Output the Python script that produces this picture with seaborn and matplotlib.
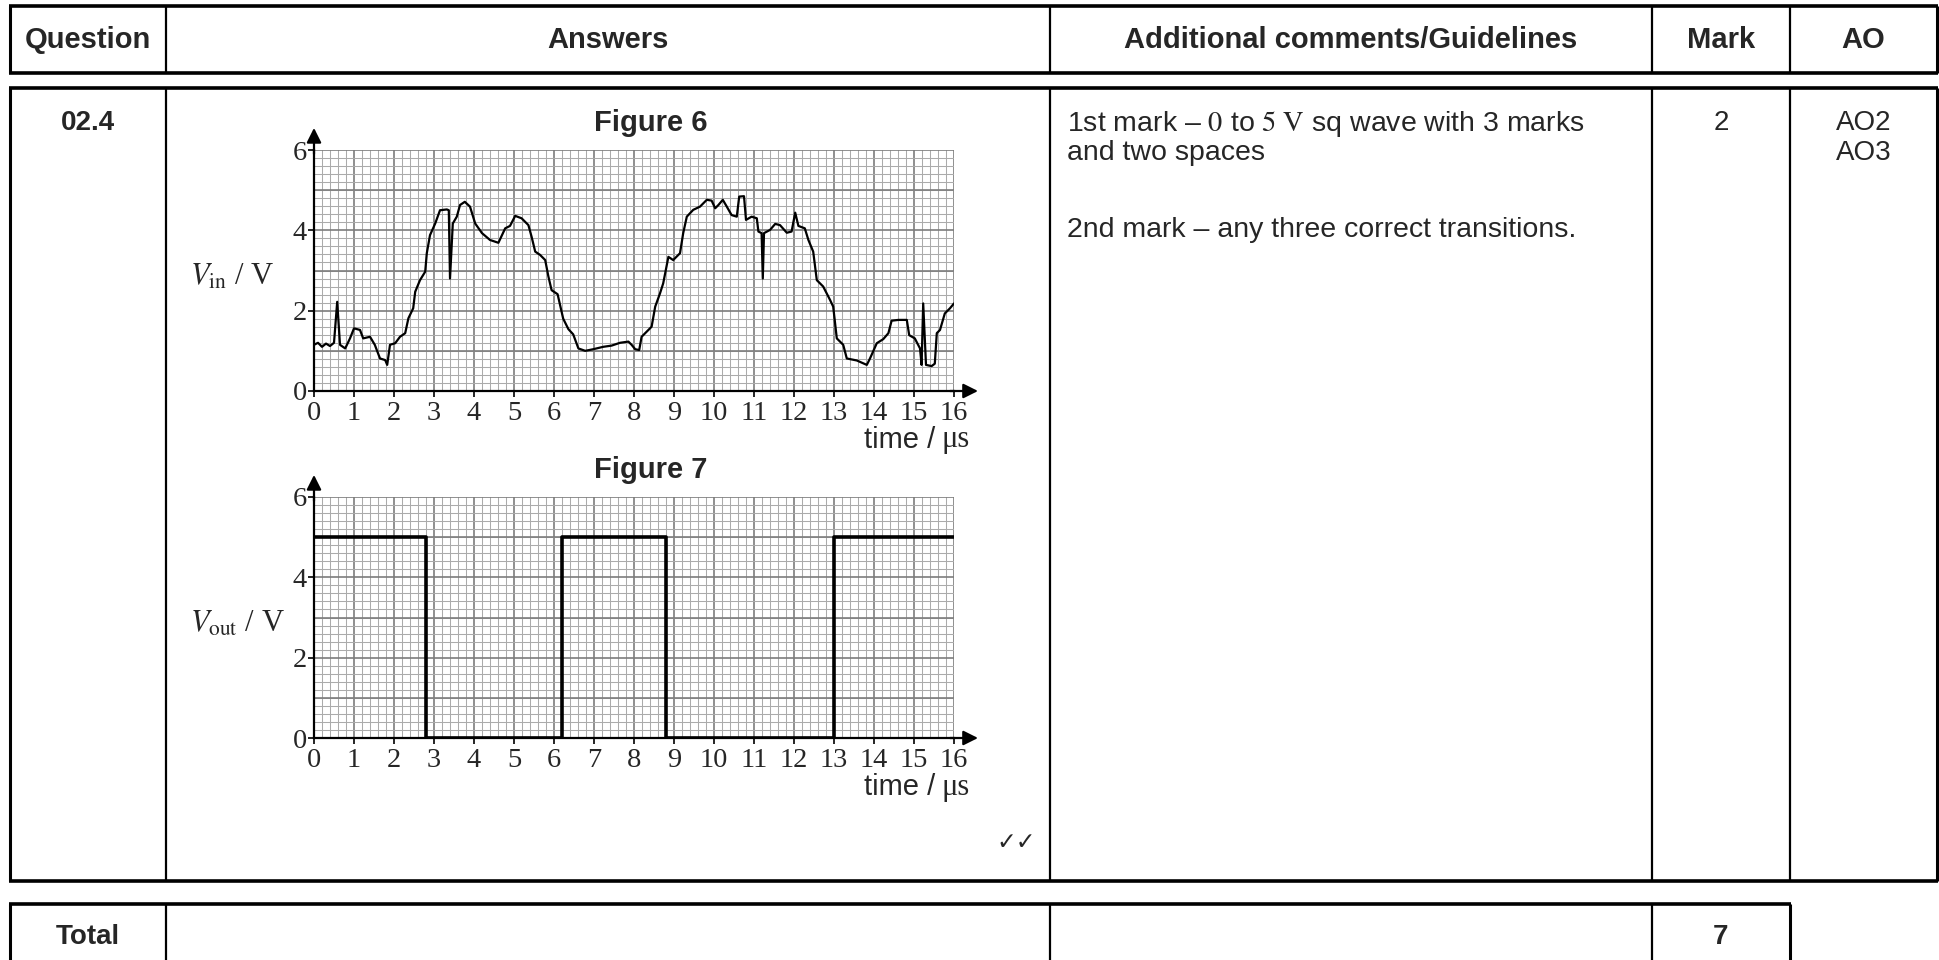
import numpy as np
import pandas as pd
import seaborn as sns
import matplotlib.pyplot as plt
from matplotlib.ticker import MultipleLocator

sns.set_style('white')
plt.rcParams['font.family'] = ['Liberation Sans', 'DejaVu Sans']
plt.rcParams['mathtext.fontset'] = 'stix'

# ---------- data ----------
# Figure 6: input voltage trace (time in us, V in volts)
t_in = [0.0, 0.1, 0.2, 0.3, 0.4, 0.5, 0.58, 0.65, 0.78, 0.9,
        1.0, 1.15, 1.23, 1.4, 1.52, 1.65, 1.78, 1.83, 1.9, 2.03,
        2.15, 2.28, 2.36, 2.48, 2.53, 2.65, 2.78, 2.82, 2.9, 3.03,
        3.15, 3.32, 3.37, 3.4, 3.47, 3.57, 3.65, 3.77, 3.9, 4.03,
        4.2, 4.4, 4.61, 4.78, 4.9, 5.03, 5.19, 5.36, 5.44, 5.53,
        5.65, 5.78, 5.86, 5.94, 6.09, 6.23, 6.36, 6.48, 6.61, 6.78,
        6.98, 7.23, 7.44, 7.65, 7.86, 7.94, 8.03, 8.13, 8.19, 8.32,
        8.44, 8.53, 8.65, 8.73, 8.86, 8.98, 9.15, 9.23, 9.32, 9.48,
        9.65, 9.82, 9.94, 10.03, 10.11, 10.22, 10.32, 10.44, 10.57, 10.63,
        10.75, 10.8, 10.94, 11.07, 11.11, 11.19, 11.22, 11.25, 11.4, 11.53,
        11.65, 11.82, 11.94, 12.03, 12.11, 12.27, 12.36, 12.48, 12.57, 12.73,
        12.9, 12.98, 13.07, 13.23, 13.32, 13.57, 13.82, 13.9, 14.07, 14.23,
        14.36, 14.44, 14.61, 14.82, 14.88, 15.02, 15.15, 15.19, 15.23, 15.3,
        15.44, 15.52, 15.57, 15.65, 15.77, 15.9, 16.0]
v_in = [1.15, 1.2, 1.1, 1.18, 1.12, 1.2, 2.22, 1.15, 1.06, 1.31,
        1.56, 1.52, 1.31, 1.35, 1.15, 0.81, 0.77, 0.65, 1.15, 1.19,
        1.35, 1.44, 1.81, 2.06, 2.47, 2.76, 2.97, 3.43, 3.88, 4.17,
        4.5, 4.52, 4.5, 2.8, 4.17, 4.34, 4.63, 4.71, 4.59, 4.17,
        3.93, 3.76, 3.69, 4.05, 4.11, 4.36, 4.3, 4.13, 3.84, 3.47,
        3.39, 3.26, 2.85, 2.51, 2.41, 1.8, 1.54, 1.41, 1.06, 1.0,
        1.04, 1.1, 1.13, 1.2, 1.23, 1.15, 1.04, 1.02, 1.35, 1.48,
        1.6, 2.1, 2.43, 2.68, 3.34, 3.26, 3.43, 3.93, 4.34, 4.51,
        4.59, 4.76, 4.74, 4.55, 4.63, 4.76, 4.59, 4.38, 4.34, 4.84,
        4.85, 4.26, 4.34, 4.3, 3.97, 3.93, 2.8, 3.93, 4.01, 4.16,
        4.13, 3.94, 3.97, 4.44, 4.11, 4.05, 3.76, 3.47, 2.76, 2.6,
        2.27, 2.1, 1.31, 1.15, 0.81, 0.76, 0.65, 0.81, 1.19, 1.29,
        1.44, 1.75, 1.77, 1.77, 1.39, 1.31, 1.06, 0.65, 2.18, 0.65,
        0.62, 0.68, 1.44, 1.52, 1.93, 2.06, 2.18]

# Figure 7: output square wave (level holds from each time until the next)
t_out = [0.0, 2.8, 6.2, 8.8, 13.0, 16.0]
v_out = [5, 0, 5, 0, 5, 5]

x_ticks = list(range(0, 17))
y_ticks = [0, 2, 4, 6]
y_grid_odd = [1, 3, 5]

headers = ['Question', 'Answers', 'Additional comments/Guidelines', 'Mark', 'AO']
question = '02.4'
comment_lines = [r'1st mark – $\mathrm{0}$ to $\mathrm{5\ V}$ sq wave with 3 marks',
                 'and two spaces',
                 '2nd mark – any three correct transitions.']
mark = '2'
ao = ['AO2', 'AO3']
total_mark = '7'

df_in = pd.DataFrame({'t': t_in, 'v': v_in})
df_out = pd.DataFrame({'t': t_out, 'v': v_out})

# ---------- figure ----------
W, H = 1939, 960
fig = plt.figure(figsize=(W / 100, H / 100), dpi=100)

bg = fig.add_axes([0, 0, 1, 1])
bg.set_xlim(0, W)
bg.set_ylim(H, 0)
bg.axis('off')

cols = [10, 166, 1050, 1652, 1790, 1937]


def table_box(y0, y1, xs):
    bg.hlines([y0, y1], xs[0] - 1, xs[-1] + 1, color='black', lw=2.6)
    bg.vlines(xs[1:-1], y0, y1, color='black', lw=1.6)
    bg.vlines([xs[0], xs[-1]], y0, y1, color='black', lw=2.2)


table_box(6, 73, cols)
table_box(88, 881, cols)
table_box(904, 965, cols[:-1])

centers = [(cols[i] + cols[i + 1]) / 2 for i in range(5)]
for c, h in zip(centers, headers):
    bg.text(c, 40, h, ha='center', va='center', fontsize=21, fontweight='bold')

bg.text(centers[0], 123, question, ha='center', va='center', fontsize=20, fontweight='bold')
bg.text(centers[3], 123, mark, ha='center', va='center', fontsize=20)
bg.text(centers[4], 123, ao[0], ha='center', va='center', fontsize=20)
bg.text(centers[4], 153, ao[1], ha='center', va='center', fontsize=20)
for y, line in zip([124, 153, 230], comment_lines):
    bg.text(1067, y, line, ha='left', va='center', fontsize=20.5)

bg.text(centers[0], 937, 'Total', ha='center', va='center', fontsize=20, fontweight='bold')
bg.text(centers[3], 937, total_mark, ha='center', va='center', fontsize=20, fontweight='bold')

bg.text(1036, 842, '✓✓', ha='right', va='center', fontsize=17, family='DejaVu Sans')


def graph(y_top, df, lw, title, ylab, step=False):
    # axes placed in pixel terms: x 0..16 -> 314..954, y 6..0 -> y_top..y_top+241
    ax = fig.add_axes([314 / W, (H - y_top - 241) / H, 640 / W, 241 / H])
    ax.set_xlim(0, 16)
    ax.set_ylim(0, 6)
    ax.set_xticks(x_ticks)
    ax.set_yticks(y_ticks)
    ax.xaxis.set_minor_locator(MultipleLocator(0.2))
    ax.yaxis.set_minor_locator(MultipleLocator(0.2))
    ax.grid(which='minor', color='#ababab', lw=0.75)
    ax.grid(which='major', color='#7d7d7d', lw=1.2)
    ax.hlines(y_grid_odd, 0, 16, color='#7d7d7d', lw=1.2, zorder=0.6)
    ax.set_axisbelow(True)

    kw = dict(drawstyle='steps-post') if step else {}
    sns.lineplot(data=df, x='t', y='v', ax=ax, color='black', lw=lw,
                 estimator=None, sort=False, errorbar=None, zorder=3, **kw)
    ax.set_xlabel('')
    ax.set_ylabel('')

    for s in ['top', 'right']:
        ax.spines[s].set_visible(False)
    for s in ['left', 'bottom']:
        ax.spines[s].set_color('black')
        ax.spines[s].set_linewidth(1.6)
        ax.spines[s].set_zorder(5)
    ax.tick_params(which='major', direction='out', length=4, width=1.2, color='black',
                   labelsize=20.5, pad=3, left=True, bottom=True)
    ax.tick_params(which='minor', length=0)
    ax.tick_params(axis='y', which='major', pad=1)
    for lab in ax.get_xticklabels() + ax.get_yticklabels():
        lab.set_family('Liberation Serif')

    arrow = dict(arrowstyle='-|>', color='black', lw=1.6, mutation_scale=22,
                 shrinkA=0, shrinkB=0)
    ax.annotate('', xy=(0, 6.55), xytext=(0, 5.9), arrowprops=arrow, annotation_clip=False)
    ax.annotate('', xy=(16.6, 0), xytext=(15.9, 0), arrowprops=arrow, annotation_clip=False)

    bg.text(651, y_top - 27, title, ha='center', va='center', fontsize=21, fontweight='bold')
    bg.text(190, y_top + 127, ylab, ha='left', va='center', fontsize=22,
            family='Liberation Serif')
    bg.text(935, y_top + 290, 'time /', ha='right', va='center', fontsize=21)
    bg.text(941, y_top + 290, 'μs', ha='left', va='center', fontsize=22,
            family='Liberation Serif')
    return ax


graph(150, df_in, 1.6, 'Figure 6', r'$V_{\mathrm{in}}$ / V')
graph(497, df_out, 2.6, 'Figure 7', r'$V_{\mathrm{out}}$ / V', step=True)

fig.savefig('out.png', dpi=100)
